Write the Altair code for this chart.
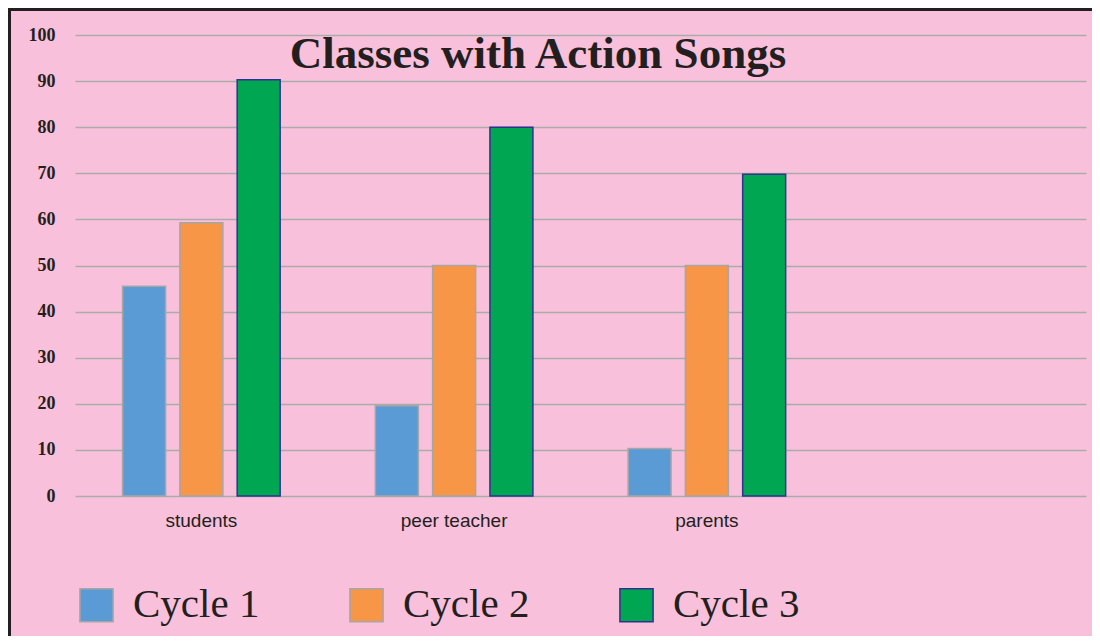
import altair as alt
import pandas as pd

categories = ["students", "peer teacher", "parents"]
series = ["Cycle 1", "Cycle 2", "Cycle 3"]
cycle1 = [45.5, 19.6, 10.3]
cycle2 = [59.3, 50.0, 50.0]
cycle3 = [90.3, 80.0, 69.8]
x_domain = categories + [" "]
y_ticks = [0, 10, 20, 30, 40, 50, 60, 70, 80, 90, 100]

fills = ["#5B9BD5", "#F79646", "#00A651"]
strokes = ["#A6A6A6", "#A6A6A6", "#2E3192"]
PINK = "#F8C0DA"
INK = "#231F20"

rows = []
for s, vals in zip(series, [cycle1, cycle2, cycle3]):
    for c, v in zip(categories, vals):
        rows.append({"category": c, "series": s, "value": v})
df = pd.DataFrame(rows)

W, H = 1011, 461

bars = alt.Chart(df).mark_bar(strokeWidth=1.5).encode(
    x=alt.X("category:N", sort=x_domain,
            scale=alt.Scale(domain=x_domain, paddingInner=0.32, paddingOuter=0.16),
            axis=alt.Axis(title=None, labelAngle=0, ticks=False, tickSize=0, domain=False,
                          labelFont="Liberation Sans", labelFontSize=19, labelColor=INK,
                          labelPadding=15)),
    xOffset=alt.XOffset("series:N", scale=alt.Scale(paddingInner=0.25, paddingOuter=0.125)),
    y=alt.Y("value:Q", scale=alt.Scale(domain=[0, 100], nice=False),
            axis=alt.Axis(title=None, values=y_ticks, ticks=False, tickSize=0, domain=False,
                          labelFont="Liberation Serif", labelFontWeight="bold",
                          labelFontSize=18, labelColor=INK, labelPadding=20,
                          grid=True, gridColor="#ABABAB", gridWidth=1.5)),
    color=alt.Color("series:N", scale=alt.Scale(domain=series, range=fills),
                    legend=alt.Legend(title=None, orient="none", legendX=1, legendY=549.5,
                                      direction="horizontal", columns=3, columnPadding=86,
                                      symbolType="square", symbolSize=1100,
                                      symbolStrokeWidth=1.5, symbolOpacity=1,
                                      labelFont="Liberation Serif", labelFontSize=41,
                                      labelColor=INK, labelOffset=16, padding=0,
                                      labelLimit=300)),
    stroke=alt.Stroke("series:N", scale=alt.Scale(domain=series, range=strokes)),
)

border_left = alt.Chart(alt.Data(values=[{}])).mark_rule(color="#231F20", strokeWidth=3).encode(
    x=alt.value(-65.5), y=alt.value(-27), y2=alt.value(H + 160)
)
border_top = alt.Chart(alt.Data(values=[{}])).mark_rule(color="#231F20", strokeWidth=3).encode(
    x=alt.value(-67), x2=alt.value(W + 6), y=alt.value(-25.5)
)

chart = alt.layer(bars, border_left, border_top).properties(
    width=W, height=H,
    background=PINK,
    autosize=alt.AutoSizeParams(type="none"),
    padding={"left": 67, "top": 27, "right": 6, "bottom": 140},
    title=alt.TitleParams("Classes with Action Songs", font="Liberation Serif", fontSize=45,
                          fontWeight="bold", color=INK, anchor="middle", frame="group",
                          dx=-42.5, dy=70, baseline="alphabetic", offset=-36),
).configure_view(stroke=None)

chart.save("out.html", embed_options={"renderer": "svg", "actions": False})
